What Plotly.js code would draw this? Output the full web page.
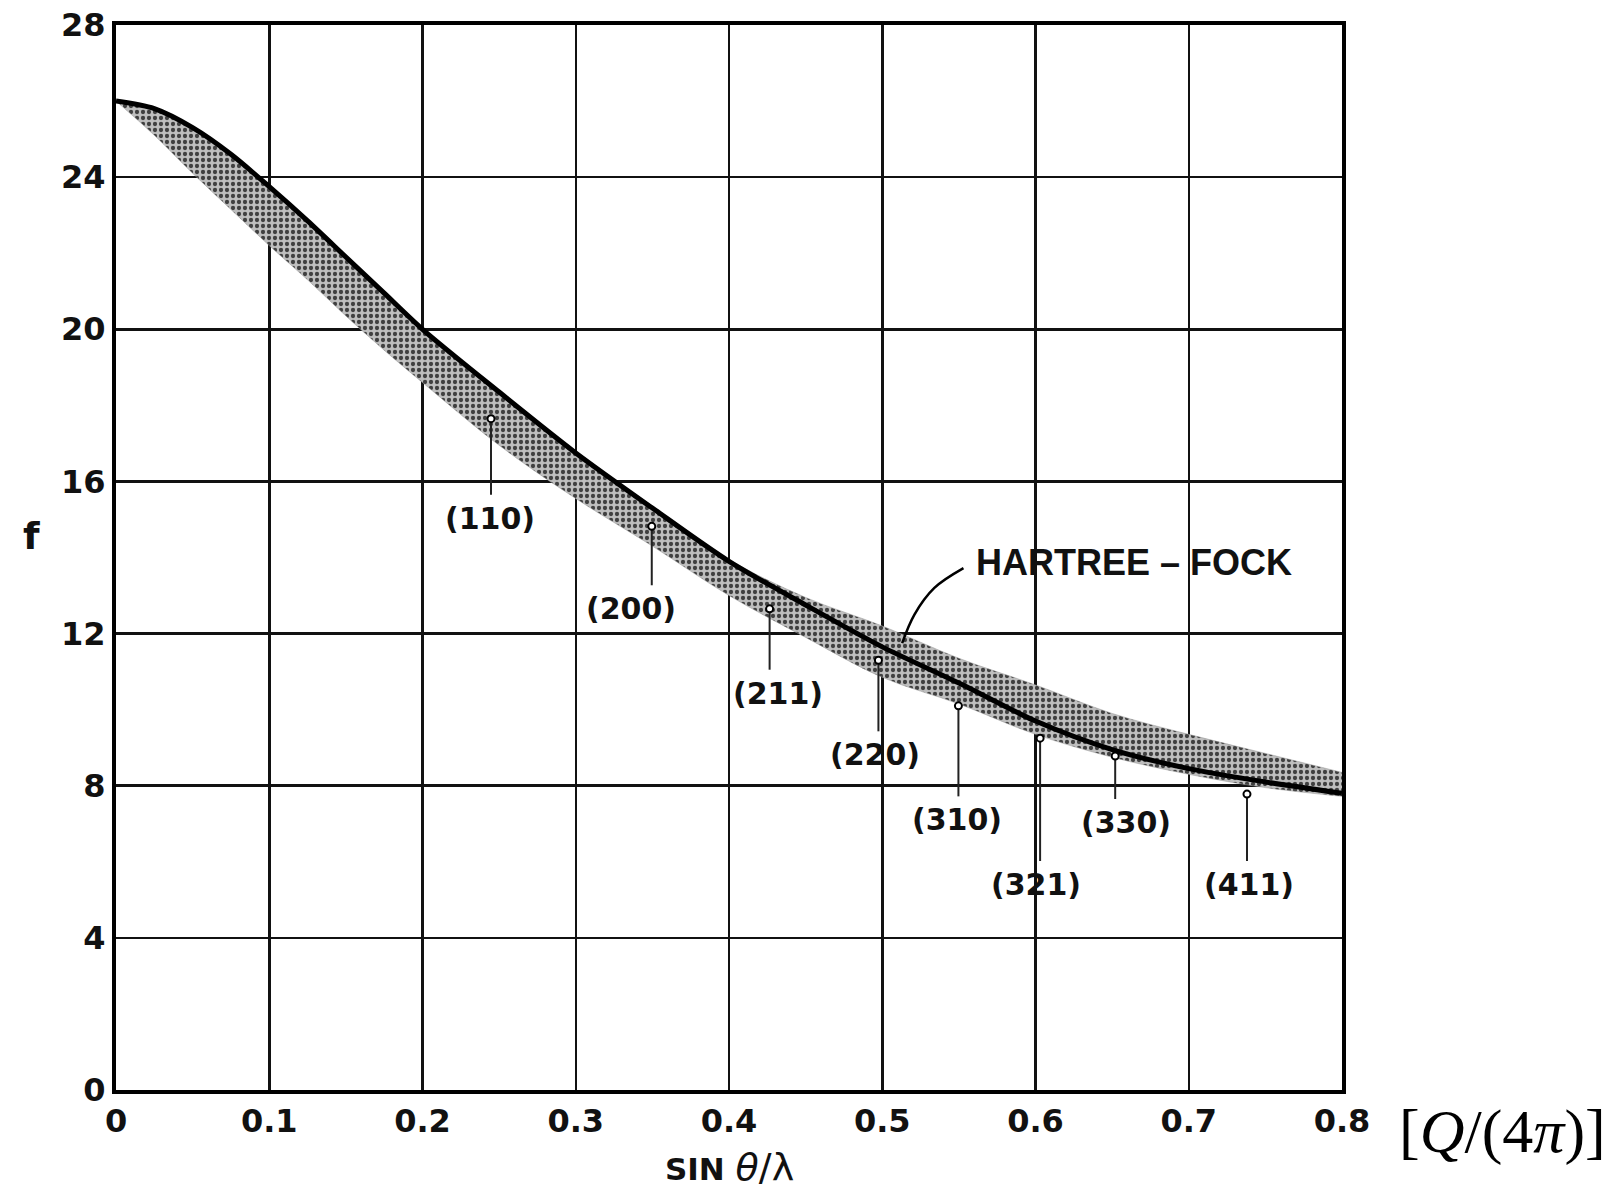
<!DOCTYPE html>
<html>
<head>
<meta charset="utf-8">
<script src="https://cdn.plot.ly/plotly-3.0.1.min.js"></script>
<style>
html,body{margin:0;padding:0;background:#fff;}
#chart{width:1615px;height:1192px;}
</style>
</head>
<body>
<div id="chart"></div>
<script>
// sin(theta)/lambda sample points
const sinThetaOverLambda = [0, 0.025, 0.05, 0.075, 0.1, 0.125, 0.15, 0.175, 0.2, 0.25, 0.3, 0.35, 0.4, 0.45, 0.5, 0.55, 0.6, 0.65, 0.7, 0.75, 0.8];
// Hartree-Fock scattering factor curve
const hartreeFock = [26.0, 25.8, 25.3, 24.6, 23.75, 22.85, 21.9, 20.95, 20.0, 18.35, 16.75, 15.3, 13.9, 12.75, 11.65, 10.7, 9.7, 8.95, 8.45, 8.1, 7.8];
// shaded band: upper and lower edges
const bandUpper = [26.0, 25.8, 25.3, 24.6, 23.75, 22.85, 21.9, 20.95, 20.0, 18.4, 16.8, 15.35, 13.95, 12.95, 12.2, 11.35, 10.65, 9.9, 9.35, 8.85, 8.35];
const bandLower = [26.0, 25.1, 24.1, 23.15, 22.2, 21.3, 20.35, 19.45, 18.6, 16.95, 15.55, 14.3, 13.0, 11.9, 10.85, 10.15, 9.35, 8.75, 8.3, 7.95, 7.72];

// measured reflections
const hklLabels = ["(110)", "(200)", "(211)", "(220)", "(310)", "(321)", "(330)", "(411)"];
const hklX = [0.2447, 0.3496, 0.4265, 0.4975, 0.5497, 0.6030, 0.6520, 0.7380];
const hklY = [17.65, 14.82, 12.65, 11.30, 10.10, 9.25, 8.78, 7.78];
// label positions
const labelX = [0.244, 0.336, 0.432, 0.495, 0.549, 0.600, 0.659, 0.739];
const labelY = [15.03, 12.65, 10.43, 8.81, 7.10, 5.40, 7.03, 5.40];

// Hartree-Fock callout
const hfText = "HARTREE \u2013 FOCK";
const hfTextX = 0.664, hfTextY = 13.86;
const hfLeaderX = [0.553, 0.534, 0.521, 0.513];
const hfLeaderY = [13.72, 13.2, 12.5, 11.75];

// axis ticks
const xTicks = [0, 0.1, 0.2, 0.3, 0.4, 0.5, 0.6, 0.7, 0.8];
const xTickText = ["0", "0.1", "0.2", "0.3", "0.4", "0.5", "0.6", "0.7", "0.8"];
const yTicks = [0, 4, 8, 12, 16, 20, 24, 28];

// leader lines from each marker down to its label
const leadX = [], leadY = [];
hklX.forEach((x, i) => {
  leadX.push(x, x, null);
  leadY.push(hklY[i], labelY[i] + 0.62, null);
});

const traces = [
  {x: sinThetaOverLambda, y: bandLower, mode: 'lines', line: {width: 0.5, color: '#999', shape: 'spline'}, hoverinfo: 'skip', showlegend: false},
  {x: sinThetaOverLambda, y: bandUpper, mode: 'lines', line: {width: 0.5, color: '#999', shape: 'spline'}, fill: 'tonexty',
   fillcolor: '#b0b0b0',
   fillpattern: {shape: '.', fgcolor: '#404040', bgcolor: '#bebebe', size: 6, solidity: 0.4},
   hoverinfo: 'skip', showlegend: false},
  {x: sinThetaOverLambda, y: hartreeFock, mode: 'lines', line: {width: 5, color: '#000', shape: 'spline', smoothing: 0.8}, showlegend: false},
  {x: leadX, y: leadY, mode: 'lines', line: {width: 2, color: '#222'}, hoverinfo: 'skip', showlegend: false},
  {x: hklX, y: hklY, mode: 'markers', marker: {size: 7, color: '#fff', line: {width: 2, color: '#000'}}, showlegend: false},
  {x: hfLeaderX, y: hfLeaderY, mode: 'lines', line: {width: 2.5, color: '#000', shape: 'spline'}, hoverinfo: 'skip', showlegend: false}
];

const labelFont = {family: 'DejaVu Sans, Arial, sans-serif', size: 30, color: '#111', weight: 'bold'};
const annotations = hklLabels.map((t, i) => ({
  x: labelX[i], y: labelY[i], xref: 'x', yref: 'y', text: t, showarrow: false, font: labelFont
}));
annotations.push({x: hfTextX, y: hfTextY, xref: 'x', yref: 'y', text: hfText, showarrow: false,
  font: {family: 'Liberation Sans, Arial, sans-serif', size: 36, color: '#111', weight: 'bold'}});
annotations.push({x: -0.069, y: 0.52, xref: 'paper', yref: 'paper', xanchor: 'center', yanchor: 'middle', text: 'f', showarrow: false,
  font: {family: 'DejaVu Sans, sans-serif', size: 38, color: '#111', weight: 'bold'}});
annotations.push({x: 0.5, y: -0.072, xref: 'paper', yref: 'paper', xanchor: 'center', yanchor: 'middle',
  text: 'SIN <span style="font-size:38px;font-weight:normal"><i>\u03b8</i>/\u03bb</span>', showarrow: false,
  font: {family: 'DejaVu Sans, sans-serif', size: 31, color: '#111', weight: 'bold'}});
annotations.push({x: 1.131, y: -0.0385, xref: 'paper', yref: 'paper', xanchor: 'center', yanchor: 'middle', text: '[<i>Q</i>/(4<i>\u03c0</i>)]', showarrow: false,
  font: {family: 'Liberation Serif, Times New Roman, serif', size: 62, color: '#000'}});

const tickFont = {family: 'DejaVu Sans, Arial, sans-serif', size: 32, color: '#111', weight: 'bold'};
const layout = {
  width: 1615, height: 1192,
  margin: {l: 116, r: 273, t: 25, b: 102},
  paper_bgcolor: '#fff', plot_bgcolor: '#fff',
  xaxis: {
    range: [0, 0.8], tickvals: xTicks, ticktext: xTickText,
    showgrid: true, gridcolor: '#111', gridwidth: 2.5,
    showline: true, linecolor: '#000', linewidth: 4, mirror: true,
    zeroline: false, ticks: '', tickfont: tickFont
  },
  yaxis: {
    range: [0, 28], tickvals: yTicks,
    showgrid: true, gridcolor: '#111', gridwidth: 2.5,
    showline: true, linecolor: '#000', linewidth: 4, mirror: true,
    zeroline: false, ticks: '', tickfont: tickFont
  },
  annotations: annotations,
  showlegend: false
};

Plotly.newPlot('chart', traces, layout, {displayModeBar: false, staticPlot: true});
</script>
</body>
</html>
